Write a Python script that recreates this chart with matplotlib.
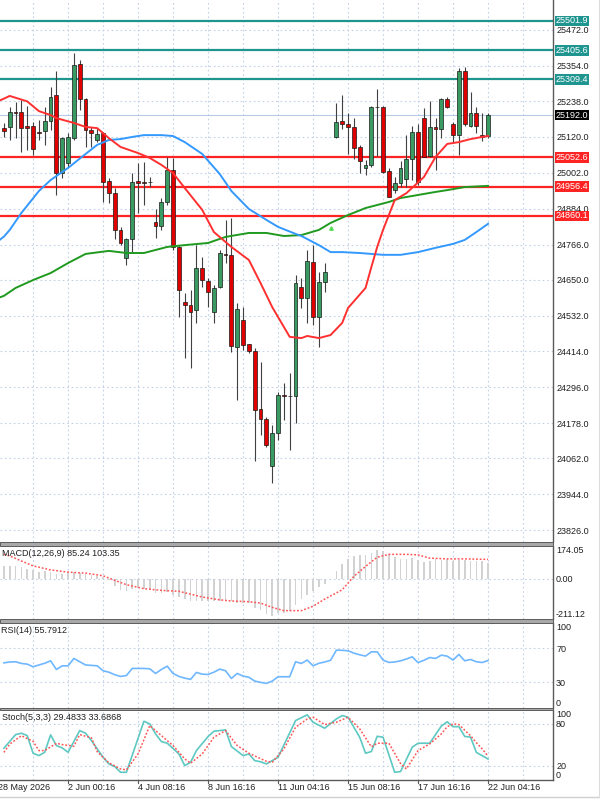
import numpy as np
import matplotlib
matplotlib.use('Agg')
import matplotlib.pyplot as plt
import matplotlib.transforms as mtransforms
from matplotlib.patches import Rectangle
from matplotlib.lines import Line2D

plt.rcParams['font.family'] = ['Liberation Sans', 'DejaVu Sans']
plt.rcParams['font.size'] = 6.5

nan = np.nan

# ---- price bars (index 56 is missing in the feed) ----
opens = [25150, 25154, 25201, 25201, 25156, 25156, 25136, 25140, 25173, 25258,
         25002, 25033, 25118, 25360, 25245, 25143, 25110, 25132, 24976, 24937,
         24814, 24721, 24783, 24974, 24971, 24973, 24841, 24827, 24907, 25011,
         24759, 24578, 24567, 24551, 24688, 24647, 24545, 24625, 24735, 24732,
         24430, 24518, 24438, 24417, 24225, 24192, 24038, 24145, 24271, 24268,
         24268, 24627, 24591, 24709, 24528, 24644, nan, 25121, 25174, 25163,
         25154, 25088, 25017, 25028, 25220, 25220, 25008, 24945, 24967, 24982,
         25046, 25137, 25181, 25057, 25154, 25146, 25244, 25163, 25126, 25338,
         25156, 25200, 25126, 25123]
highs = [25166, 25220, 25236, 25242, 25222, 25170, 25176, 25218, 25285, 25337,
         25121, 25132, 25397, 25373, 25247, 25154, 25149, 25137, 24984, 24951,
         24825, 24786, 25000, 25033, 25039, 24989, 24882, 24918, 25055, 25050,
         24760, 24605, 24616, 24764, 24726, 24655, 24633, 24748, 24847, 24852,
         24573, 24561, 24440, 24424, 24380, 24199, 24172, 24282, 24309, 24342,
         24666, 24655, 24748, 24764, 24677, 24704, nan, 25233, 25258, 25200,
         25181, 25094, 25044, 25222, 25277, 25222, 25017, 24989, 25041, 25126,
         25156, 25163, 25214, 25239, 25181, 25247, 25251, 25170, 25346, 25351,
         25269, 25218, 25198, 25199]
lows = [25121, 25110, 25116, 25071, 25077, 25061, 25110, 25094, 25143, 24929,
        24984, 25022, 25110, 25209, 25088, 25088, 25104, 24907, 24902, 24783,
        24764, 24699, 24742, 24869, 24896, 24956, 24786, 24814, 24896, 24748,
        24528, 24392, 24359, 24507, 24627, 24561, 24507, 24622, 24704, 24413,
        24254, 24419, 24410, 24055, 24139, 24101, 23980, 24123, 24188, 24090,
        24180, 24556, 24507, 24501, 24430, 24611, nan, 25118, 25145, 25064,
        25046, 25002, 24995, 25022, 25057, 25002, 24922, 24937, 24955, 24955,
        24978, 24962, 25053, 25054, 25011, 25116, 25215, 25104, 25061, 25156,
        25154, 25132, 25108, 25117]
closes = [25140, 25201, 25199, 25149, 25149, 25080, 25134, 25174, 25253, 25002,
          25116, 25119, 25357, 25245, 25143, 25134, 25130, 24973, 24935, 24814,
          24770, 24783, 24973, 24967, 24968, 24971, 24827, 24907, 25011, 24759,
          24616, 24567, 24545, 24688, 24649, 24611, 24622, 24739, 24731, 24432,
          24554, 24435, 24417, 24221, 24192, 24106, 24145, 24271, 24269, 24267,
          24638, 24591, 24712, 24528, 24644, 24677, nan, 25170, 25163, 25152,
          25085, 25042, 25028, 25220, 25218, 25006, 24923, 24967, 25017, 25046,
          25137, 24973, 25055, 25154, 25146, 25245, 25218, 25126, 25338, 25163,
          25198, 25156, 25119, 25192]

# ---- moving averages ----
ma_fast_idx = [-1, 0, 1, 4, 6, 8, 9, 12, 14, 16, 18, 20, 23, 25, 27, 29, 31, 34, 36, 39, 42,
               44, 46, 49, 51, 52, 54, 56, 58, 59, 62, 63, 64, 65, 67, 69, 72, 74, 76, 78,
               80, 82, 83]
ma_fast = [25238, 25246, 25255, 25237, 25205, 25192, 25182, 25166, 25153, 25149, 25116,
           25087, 25067, 25051, 25028, 25001, 24952, 24880, 24807, 24758, 24715,
           24639, 24560, 24462, 24458, 24465, 24458, 24468, 24508, 24557, 24623,
           24692, 24758, 24814, 24912, 24935, 24988, 25054, 25097, 25103, 25113,
           25120, 25123]
ma_mid_idx = [-1, 0, 1, 3, 6, 8, 11, 14, 16, 18, 20, 22, 24, 27, 29, 31, 34, 37, 39, 42, 45,
              47, 50, 51, 54, 56, 58, 61, 65, 68, 71, 74, 77, 79, 81, 83]
ma_mid = [24777, 24792, 24814, 24870, 24942, 24978, 25018, 25064, 25094, 25110, 25113,
          25120, 25126, 25126, 25123, 25103, 25064, 24998, 24942, 24883, 24847,
          24824, 24801, 24794, 24764, 24741, 24741, 24738, 24732, 24732, 24741,
          24755, 24768, 24781, 24807, 24834]
ma_slow_idx = [-1, 0, 2, 5, 8, 11, 14, 18, 21, 24, 28, 31, 35, 38, 42, 45, 48, 51, 54, 56, 59,
               62, 66, 68, 71, 74, 76, 79, 83]
ma_slow = [24590, 24597, 24623, 24649, 24672, 24705, 24735, 24745, 24738, 24738, 24758,
           24764, 24771, 24791, 24804, 24804, 24794, 24797, 24814, 24837, 24863,
           24886, 24906, 24919, 24929, 24939, 24945, 24955, 24959]

teal_levels = [25501.9, 25405.6, 25309.4]
red_levels = [25052.6, 24956.4, 24860.1]
last_price = 25192.0
price_ticks = [25472.0, 25354.0, 25238.0, 25120.0, 25002.0, 24884.0, 24766.0, 24650.0,
               24532.0, 24414.0, 24296.0, 24178.0, 24062.0, 23944.0, 23826.0]

# ---- indicators ----
macd_hist = [69, 69, 66, 61, 52, 45, 36, 40, 36, 26,
             26, 31, 36, 31, 26, 19, 14, 8, -7, -39,
             -57, -65, -53, -48, -53, -60, -74, -74, -71, -83,
             -95, -106, -115, -118, -118, -115, -118, -118, -113, -118,
             -127, -125, -127, -153, -165, -183, -194, -178, -182, -170,
             -136, -106, -83, -65, -44, -28, nan, 40, 80, 105,
             122, 127, 127, 139, 154, 148, 131, 118, 106, 106,
             110, 101, 92, 96, 104, 101, 106, 97, 101, 101,
             97, 97, 97, 85.24]
sig_idx = [0, 1, 3, 5, 8, 11, 14, 17, 19, 21, 24, 27, 30, 32, 34, 37, 39, 42, 44, 46,
           48, 51, 53, 55, 58, 60, 62, 64, 66, 69, 71, 73, 76, 79, 83]
macd_sig = [130, 122, 95, 69, 48, 36, 31, 17, -7, -30, -51, -60, -65, -80, -95, -110,
            -116, -120, -127, -150, -167, -167, -144, -106, -57, 14, 66, 115, 130, 130,
            127, 110, 106, 106, 103.35]

rsi = [53, 54, 54.3, 52.3, 51.5, 48.4, 50.5, 52.5, 55.4, 45.2,
       49.5, 49.5, 58.2, 54.3, 50.5, 50, 49.5, 43.7, 42, 39,
       37, 38, 46.4, 46.4, 46.4, 46, 40.5, 45.2, 49.1, 40.5,
       37, 35, 33.5, 41.7, 39.7, 39.3, 42, 45.6, 43.7, 34.6,
       40.5, 37.4, 36, 31.5, 30, 28.8, 31.5, 36.6, 36.6, 36.6,
       54.3, 52.3, 56.3, 49.5, 52.5, 54, 56, 68, 67.8, 67.2,
       64.5, 62.5, 61, 66, 66, 56.3, 53.5, 54, 55.4, 57.5,
       60.1, 53.4, 56, 59.3, 58.2, 62.1, 60.9, 56.3, 62.9, 55.4,
       57, 54.3, 53.4, 55.79]

k_idx = [0, 2, 3, 4, 5, 6, 7, 8, 9, 10, 11, 13, 14, 15, 17, 18, 19, 20, 21, 24,
         25, 26, 27, 28, 30, 31, 32, 33, 35, 36, 38, 39, 41, 42, 43, 44, 45, 47, 50, 52,
         53, 55, 57, 58, 59, 61, 62, 63, 64, 65, 67, 68, 70, 71, 73, 75, 76, 77, 78, 79,
         80, 81, 83]
stoch_k = [45, 64.6, 66.6, 63.2, 37.8, 34.4, 39.2, 64.2, 48.8, 45.4,
           39.2, 70.4, 66.6, 56, 32, 22.4, 18.6, 10.4, 10.4, 83.8,
           80, 65.6, 54.6, 52.2, 36.8, 20, 24.8, 41.6, 61.8, 69.4,
           71.4, 47.4, 34.4, 36.8, 27.2, 25.5, 22.4, 32, 84.8, 93,
           82.4, 73.8, 87.2, 92, 89.6, 60.8, 37.8, 40.2, 62.2, 60.8,
           10.4, 11.4, 46.4, 52.2, 52.2, 77, 83, 76, 76, 62,
           61, 39, 29.48]
d_idx = [0, 1, 3, 5, 6, 7, 9, 10, 12, 13, 15, 16, 18, 20, 21, 23, 25, 27, 29, 31,
         32, 34, 36, 38, 40, 42, 45, 46, 48, 50, 52, 53, 55, 57, 59, 61, 63, 64, 66, 68,
         69, 71, 73, 75, 76, 77, 78, 79, 80, 81, 82, 83]
stoch_d = [39, 51, 63, 55, 41.6, 41.6, 52, 50.2, 48, 64.6,
           60, 40, 24, 15.2, 13.8, 36.8, 77.6, 63.2, 48.8, 29.6,
           23.4, 36.8, 60.8, 70.4, 48.8, 37.8, 26.2, 24.8, 44, 75.2,
           87, 89.6, 79, 82.4, 89.6, 72.8, 47, 52.2, 52.2, 23,
           15.2, 41.6, 51.2, 65.6, 76, 80, 79, 71, 63, 53,
           44, 33.69]

time_idx = [-1, 11, 23, 35, 47, 59, 71, 83]
time_labels = ['28 May 2026', '2 Jun 00:16', '4 Jun 08:16', '8 Jun 16:16',
               '11 Jun 04:16', '15 Jun 08:16', '17 Jun 16:16', '22 Jun 04:16']
grid_idx = list(range(5, 95, 6))

# colours
C_UP, C_DN = '#3a9b62', '#e00000'
C_TEAL, C_RED = '#1f9590', '#ff2424'
C_GRID = '#c3d1e6'
C_TXT = '#202020'
C_AX = '#5a5a5a'

W, H = 600, 799
AXR = 553.3
fig = plt.figure(figsize=(W / 100, H / 100), dpi=100)


def panel(top, bottom):
    return fig.add_axes([0, (H - bottom) / H, AXR / W, (bottom - top) / H])


ax_p = panel(0, 542)
ax_m = panel(546, 619)
ax_r = panel(623, 707.8)
ax_s = panel(710, 779.5)
axes = [ax_p, ax_m, ax_r, ax_s]

xlo, xhi = -0.67, 94.19
for ax in axes:
    ax.set_xlim(xlo, xhi)
    for s in ['left', 'top', 'bottom']:
        ax.spines[s].set_visible(False)
    ax.spines['right'].set_color(C_AX)
    ax.spines['right'].set_linewidth(1)
    ax.set_xticks(grid_idx)
    ax.tick_params(axis='x', length=0, labelbottom=False)
    ax.xaxis.grid(True, color=C_GRID, ls=(0, (1.5, 2.5)), lw=0.8)
    ax.yaxis.tick_right()
    ax.tick_params(axis='y', length=0, pad=2, labelsize=6.5, labelcolor=C_TXT)
    ax.set_axisbelow(True)

# ---- main panel ----
o = np.array(opens, float)
h = np.array(highs, float)
l = np.array(lows, float)
c = np.array(closes, float)
x = np.arange(len(o))
ok = ~np.isnan(o)
up = c >= o
ax_p.vlines(x[ok], l[ok], h[ok], color='#404040', lw=0.8, zorder=3)
body = np.where(np.abs(c - o) < 1.5, np.sign(c - o + 0.01) * 1.5, c - o)
ax_p.bar(x[ok], body[ok], bottom=o[ok], width=0.66,
         color=np.where(up, C_UP, C_DN)[ok], edgecolor='#1a1a1a', lw=0.5, zorder=4)

ax_p.plot(ma_slow_idx, ma_slow, color='#1f9a1f', lw=1.4, zorder=5)
ax_p.plot(ma_mid_idx, ma_mid, color='#3399ff', lw=1.4, zorder=5)
ax_p.plot(ma_fast_idx, ma_fast, color='#ff3030', lw=1.4, zorder=5)
ax_p.plot([56], [24820], marker='^', ms=2.5, color='#55dd55', zorder=6)

ax_p.set_ylim(23786.9, 25570.7)
ax_p.set_yticks(price_ticks)
ax_p.set_yticklabels(['%.1f' % v for v in price_ticks])
ax_p.yaxis.grid(True, color=C_GRID, ls=(0, (1.5, 2.5)), lw=0.8)

trp = mtransforms.blended_transform_factory(ax_p.transAxes, ax_p.transData)
box_style = 'square,pad=0.1'
ax_p.axhline(last_price, color='#b7cbe6', lw=0.8, zorder=2)
ax_p.text(1.004, last_price, '%.1f' % last_price, transform=trp, color='white',
          va='center', ha='left', clip_on=False,
          bbox=dict(boxstyle=box_style, fc='black', ec='none'))
for v in teal_levels:
    ax_p.axhline(v, color=C_TEAL, lw=1.6, zorder=2)
    ax_p.text(1.004, v, '%.1f' % v, transform=trp, color='white', va='center',
              ha='left', clip_on=False,
              bbox=dict(boxstyle=box_style, fc=C_TEAL, ec='none'))
for v in red_levels:
    ax_p.axhline(v, color=C_RED, lw=1.6, zorder=2)
    ax_p.text(1.004, v, '%.1f' % v, transform=trp, color='white', va='center',
              ha='left', clip_on=False,
              bbox=dict(boxstyle=box_style, fc=C_RED, ec='none'))

# ---- MACD ----
mh = np.array(macd_hist, float)
okm = ~np.isnan(mh)
ax_m.bar(x[okm], mh[okm], width=0.28, color='#d2d2d2', zorder=2)
ax_m.plot(sig_idx, macd_sig, color='#ff5555', ls=(0, (1.2, 1.2)), lw=1.1, zorder=3)
ax_m.axhline(0, color=C_GRID, ls=(0, (1.5, 2.5)), lw=0.8, zorder=1)
ax_m.set_ylim(-211.12, 174.05)
ax_m.set_yticks([174.05, 0, -211.12])
ax_m.set_yticklabels(['174.05', '0.00', '-211.12'])
ax_m.text(0.003, 0.9, 'MACD(12,26,9) 85.24 103.35', transform=ax_m.transAxes,
          va='center', ha='left', color=C_TXT)

# ---- RSI ----
ax_r.plot(x, rsi, color='#6fb7ff', lw=1.2, zorder=3)
for lv in [70, 30]:
    ax_r.axhline(lv, color=C_GRID, ls=(0, (1.5, 2.5)), lw=0.8, zorder=1)
ax_r.set_ylim(0, 100)
ax_r.set_yticks([100, 70, 30, 0])
ax_r.set_yticklabels(['100', '70', '30', '0'])
ax_r.text(0.002, 0.915, 'RSI(14) 55.7912', transform=ax_r.transAxes,
          va='center', ha='left', color=C_TXT)

# ---- Stochastic ----
ax_s.plot(k_idx, stoch_k, color='#5ec8c2', lw=1.2, zorder=3)
ax_s.plot(d_idx, stoch_d, color='#ff5555', ls=(0, (1.2, 1.2)), lw=1.1, zorder=3)
for lv in [80, 20]:
    ax_s.axhline(lv, color=C_GRID, ls=(0, (1.5, 2.5)), lw=0.8, zorder=1)
ax_s.set_ylim(0, 100)
ax_s.set_yticks([100, 80, 20, 0])
ax_s.set_yticklabels(['100', '80', '20', '0'])
ax_s.text(0.003, 0.895, 'Stoch(5,3,3) 29.4833 33.6868', transform=ax_s.transAxes,
          va='center', ha='left', color=C_TXT)
ax_s.spines['bottom'].set_visible(True)
ax_s.spines['bottom'].set_color(C_AX)
ax_s.spines['bottom'].set_linewidth(1)

for ax in [ax_m, ax_r, ax_s]:
    labs = ax.get_yticklabels()
    labs[0].set_verticalalignment('top')
    labs[-1].set_verticalalignment('bottom')

# time axis
trt = mtransforms.blended_transform_factory(ax_s.transData, fig.transFigure)
for ti, tl in zip(time_idx, time_labels):
    ax_s.text(ti, (H - 788) / H, tl, transform=trt, ha='left', va='center',
              color=C_TXT, clip_on=False)
    if ti >= 0:
        ax_s.add_line(Line2D([ti, ti], [(H - 779.5) / H, (H - 783) / H],
                             transform=trt, color=C_AX, lw=0.8, clip_on=False))

# panel separators
for top, bot in [(542, 546), (619, 623), (707.8, 710)]:
    fig.add_artist(Rectangle((0, (H - bot) / H), AXR / W, (bot - top) / H,
                             transform=fig.transFigure, fc='#a8a8a8', ec='#5c5c5c', lw=0.7))
fig.add_artist(Line2D([0, 1], [(H - 797) / H] * 2, transform=fig.transFigure,
                      color='#cfcfcf', lw=1))
fig.add_artist(Line2D([598.5 / W] * 2, [(H - 797) / H, 1], transform=fig.transFigure,
                      color='#dcdcdc', lw=0.8))

fig.savefig('out.png', dpi=100, facecolor='white')
